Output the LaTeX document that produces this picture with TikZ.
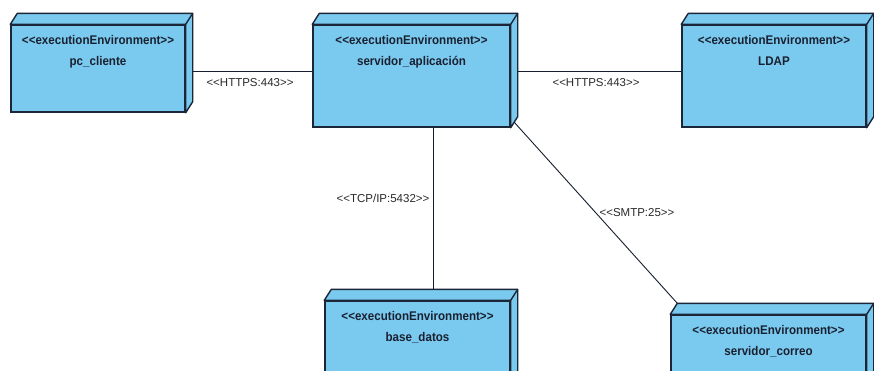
\documentclass[tikz,border=0pt]{standalone}
\usepackage{fontspec}
\setmainfont{Liberation Sans}
\newfontfamily\narrowfont{Liberation Sans}[FakeStretch=0.92]
\definecolor{boxfill}{HTML}{7ACAF0}
\definecolor{boxline}{HTML}{1B2638}
\definecolor{txt}{HTML}{1A2030}
\definecolor{lbl}{HTML}{2A2A2A}
\newcommand{\stL}{<\kern0pt<}
\newcommand{\stR}{>\kern0pt>}
\begin{document}
\begin{tikzpicture}[x=1pt,y=-1pt,
  env/.style={draw=boxline, fill=boxfill, line width=1.4pt, rectangle, inner sep=0pt},
  stereo/.style={text=txt, font=\narrowfont\fontsize{12.6}{21}\selectfont\bfseries, align=center, anchor=north, inner sep=0pt},
  conn/.style={draw=boxline!80!black, line width=0.9pt},
  lab/.style={text=lbl, font=\fontsize{11.5}{12}\selectfont, inner sep=1pt}
]
\useasboundingbox (0,0) rectangle (874,370);
\fill[white] (0,0) rectangle (874,370);
\newcommand{\depthbox}[1]{%
  \filldraw[draw=boxline, fill=boxfill, line width=1.4pt, line join=round]
    (#1.north west) -- ++(7,-11) -- ([shift={(7,-11)}]#1.north east) -- ([shift={(7,-11)}]#1.south east) -- (#1.south east) -- (#1.north east) -- cycle;
  \draw[boxline, line width=1.4pt] (#1.north east) -- ++(7,-11);
}
\node[env, minimum width=174pt, minimum height=87pt] (pc) at (98,68.5) {};
\node[env, minimum width=197pt, minimum height=102pt] (srv) at (411.5,76) {};
\node[env, minimum width=184pt, minimum height=102pt] (ldap) at (774,76) {};
\node[env, minimum width=185pt, minimum height=100pt] (base) at (417.5,351) {};
\node[env, minimum width=195pt, minimum height=100pt] (correo) at (768.5,365) {};
\depthbox{pc}
\depthbox{srv}
\depthbox{ldap}
\depthbox{base}
\depthbox{correo}
\node[stereo] (pct) at ([yshift=-11pt]pc.north) {\stL executionEnvironment\stR\\pc\_cliente};
\node[stereo] (srvt) at ([yshift=-11pt]srv.north) {\stL executionEnvironment\stR\\servidor\_aplicación};
\node[stereo] (ldapt) at ([yshift=-11pt]ldap.north) {\stL executionEnvironment\stR\\LDAP};
\node[stereo] (baset) at ([yshift=-11pt]base.north) {\stL executionEnvironment\stR\\base\_datos};
\node[stereo] (correot) at ([yshift=-11pt]correo.north) {\stL executionEnvironment\stR\\servidor\_correo};
% connectors
\draw[conn] ([shift={(7,2.5)}]pc.east) -- ([yshift=-2.5pt]pc.east -| srv.west);
\draw[conn] ([shift={(7,-5)}]srv.east) -- ([yshift=5pt]srv.east -| ldap.west);
\draw[conn] ([xshift=21.5pt]srv.south) -- ([shift={(15.5,-11)}]base.north);
\draw[conn] ([shift={(3.5,-5.5)}]srv.south east) -- ([shift={(7,-11)}]correo.north west);
\node[lab] (l1) at (250,83) {\stL HTTPS:443\stR};
\node[lab] (l2) at (596,83) {\stL HTTPS:443\stR};
\node[lab] (l3) at (383,198) {\stL TCP/IP:5432\stR};
\node[lab] (l4) at (637,213) {\stL SMTP:25\stR};
\end{tikzpicture}
\end{document}
